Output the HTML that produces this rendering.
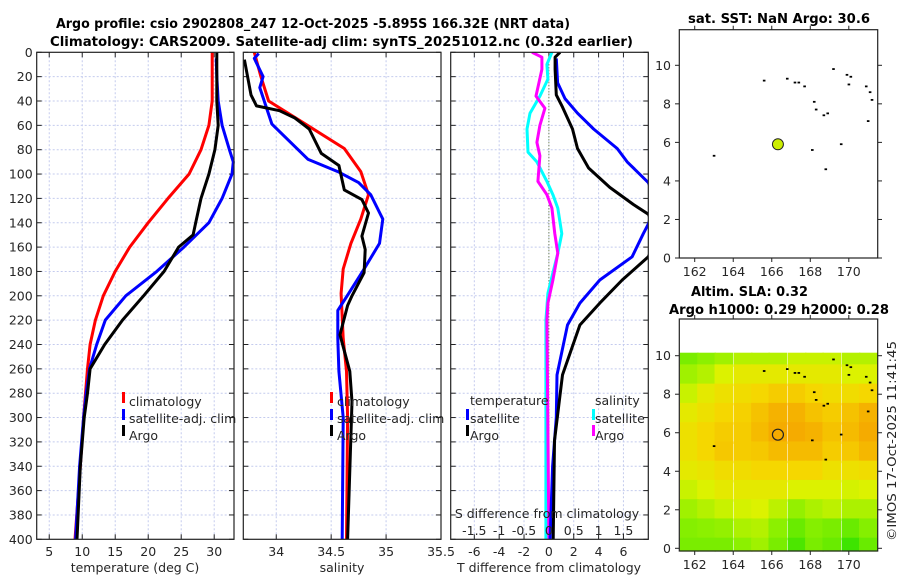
<!DOCTYPE html>
<html><head><meta charset="utf-8">
<style>
body{margin:0;background:#fff;}
svg{display:block;font-family:"DejaVu Sans","Liberation Sans",sans-serif;}
</style></head>
<body>
<svg id="fig" width="900" height="580" viewBox="0 0 900 580" xmlns="http://www.w3.org/2000/svg">
<rect width="900" height="580" fill="#fff"/>
<text x="56" y="28" font-size="13" font-weight="bold" textLength="514" lengthAdjust="spacingAndGlyphs" fill="#000">Argo profile: csio 2902808_247 12-Oct-2025 -5.895S 166.32E (NRT data)</text>
<text x="50" y="46" font-size="13" font-weight="bold" textLength="583" lengthAdjust="spacingAndGlyphs" fill="#000">Climatology: CARS2009. Satellite-adj clim: synTS_20251012.nc (0.32d earlier)</text>
<text x="688" y="23" font-size="13" font-weight="bold" textLength="182" lengthAdjust="spacingAndGlyphs">sat. SST: NaN Argo: 30.6</text>
<text x="691" y="296" font-size="13" font-weight="bold" textLength="117" lengthAdjust="spacingAndGlyphs">Altim. SLA: 0.32</text>
<text x="669" y="314" font-size="13" font-weight="bold" textLength="220" lengthAdjust="spacingAndGlyphs">Argo h1000: 0.29 h2000: 0.28</text>
<text transform="translate(896,541) rotate(-90)" font-size="12.5" textLength="200" lengthAdjust="spacingAndGlyphs" fill="#262626">©IMOS 17-Oct-2025 11:41:45</text>
<g id="plots"></g>
</svg>
<script>
// ---- data ----
const depthTicks = [0,20,40,60,80,100,120,140,160,180,200,220,240,260,280,300,320,340,360,380,400];
const tempTicks = [5,10,15,20,25,30];
const salTicks = [34,34.5,35,35.5];
const salTickLabels = ["34","34.5","35","35.5"];
const tdiffTicks = [-6,-4,-2,0,2,4,6];
const sdiffTicks = [-1.5,-1,-0.5,0,0.5,1,1.5];
const tdiffLabels = ["-6","-4","-2","0","2","4","6"];
const sdiffLabels = ["-1.5","-1","-0.5","0","0.5","1","1.5"];

const tClimDepth = [0,40,60,80,100,120,140,160,180,200,220,240,260,280,300,340,400];
const tClimVal   = [29.7,29.7,29.2,28.0,26.2,23.0,20.0,17.2,15.0,13.2,12.0,11.2,10.8,10.5,10.2,9.7,8.9];
const tSatDepth = [5,20,40,60,80,90,100,120,140,160,180,200,220,240,260,280,300,340,400];
const tSatVal   = [30.3,30.4,30.6,31.2,32.3,32.9,32.7,31.2,29.2,25.4,21.3,16.6,13.5,12.2,11.1,10.6,10.2,9.6,9.0];
const tArgoDepth = [0,20,40,60,80,100,120,140,150,160,180,200,220,240,260,280,300,340,400];
const tArgoVal   = [30.4,30.4,30.4,30.6,30.1,29.2,28.0,27.2,26.8,24.6,22.4,19.3,16.1,13.4,11.2,10.8,10.3,9.7,9.2];

const sClimDepth = [0,20,40,62,79,98,117,137,157,178,198,235,262,300,400];
const sClimVal   = [33.80,33.86,33.93,34.32,34.62,34.77,34.84,34.77,34.68,34.61,34.59,34.61,34.64,34.65,34.64];
const sSatDepth = [1,5,20,29,59,88,98,107,117,137,157,178,198,212,235,262,300,400];
const sSatVal   = [33.84,33.80,33.88,33.85,33.96,34.29,34.56,34.75,34.86,34.97,34.94,34.80,34.66,34.56,34.56,34.57,34.61,34.60];
const sArgoDepth = [6,35,44,48,54,63,83,93,113,121,132,151,162,181,200,208,232,262,287,400];
const sArgoVal   = [33.71,33.77,33.82,34.03,34.17,34.30,34.41,34.57,34.62,34.78,34.84,34.78,34.81,34.80,34.69,34.65,34.58,34.67,34.69,34.65];

const dTSatDepth = [5,25,38,50,63,79,90,107,122,141,149,168,187,206,224,265,300,340,400];
const dTSatVal   = [0.6,0.7,1.3,2.3,3.6,5.5,6.3,8.0,8.6,8.0,7.6,6.7,4.1,2.5,1.5,0.65,0.6,0.3,0.1];
const dTArgoDepth = [0,4,14,35,45,63,79,95,111,125,133,150,168,187,206,224,265,281,319,400];
const dTArgoVal   = [0.9,0.5,0.5,0.6,1.1,1.9,2.3,3.2,4.9,6.8,8.0,8.8,8.0,5.9,4.1,2.5,1.1,0.9,0.45,0.35];
const dSSatDepth = [0,10,22,36,50,63,82,90,106,117,128,149,165,181,198,220,400];
const dSSatVal   = [0.06,-0.04,-0.02,-0.18,-0.38,-0.44,-0.42,-0.24,-0.04,0.08,0.18,0.26,0.18,0.08,-0.02,-0.06,-0.06];
const dSArgoDepth = [0,4,14,36,46,60,74,85,106,117,128,149,165,187,206,220,400];
const dSArgoVal   = [-0.34,-0.14,-0.14,-0.26,-0.08,-0.18,-0.24,-0.18,-0.22,-0.04,0.06,0.12,0.18,0.08,-0.02,-0.04,0.0];

const mapLonTicks = [162,164,166,168,170];
const mapLatTicks = [0,2,4,6,8,10];
const argoLon = 166.32, argoLat = 5.9;
const coastLon = [163.0,165.6,166.8,167.2,167.4,167.7,169.2,169.9,170.1,170.0,168.2,168.3,168.7,168.9,169.6,171.0,171.1,171.2,168.1,168.8,170.9];
const coastLat = [5.3,9.2,9.3,9.1,9.1,8.9,9.8,9.5,9.4,9.0,8.1,7.7,7.4,7.5,5.9,7.1,8.6,8.2,5.6,4.6,8.9];
const slaLons = [161.7,162.6,163.5,164.5,165.4,166.3,167.3,168.2,169.1,170.1,171.0];
const slaLats = [10,9,8,7,6,5,4,3,2,1,0];
const slaRow10 = [0.25,0.3,0.35,0.4,0.4,0.4,0.45,0.45,0.45,0.4,0.4];
const slaRow9  = [0.35,0.4,0.5,0.55,0.55,0.55,0.55,0.55,0.55,0.5,0.5];
const slaRow8  = [0.45,0.55,0.6,0.62,0.65,0.7,0.7,0.65,0.62,0.62,0.65];
const slaRow7  = [0.55,0.6,0.65,0.68,0.75,0.82,0.82,0.75,0.7,0.75,0.82];
const slaRow6  = [0.6,0.65,0.7,0.7,0.78,0.86,0.86,0.82,0.75,0.78,0.86];
const slaRow5  = [0.6,0.65,0.72,0.7,0.72,0.78,0.78,0.78,0.7,0.72,0.8];
const slaRow4  = [0.55,0.58,0.62,0.62,0.65,0.65,0.65,0.65,0.6,0.6,0.62];
const slaRow3  = [0.45,0.5,0.55,0.55,0.55,0.55,0.5,0.5,0.5,0.48,0.5];
const slaRow2  = [0.35,0.4,0.45,0.48,0.5,0.42,0.32,0.38,0.42,0.38,0.38];
const slaRow1  = [0.28,0.3,0.32,0.38,0.4,0.3,0.2,0.28,0.25,0.2,0.28];
const slaRow0  = [0.25,0.25,0.25,0.3,0.35,0.25,0.12,0.25,0.2,0.08,0.2];
const slaGrid = [slaRow10,slaRow9,slaRow8,slaRow7,slaRow6,slaRow5,slaRow4,slaRow3,slaRow2,slaRow1,slaRow0];

// ---- drawing ----
const NS="http://www.w3.org/2000/svg";
const root=document.getElementById('plots');
function mk(tag,attrs,parent){const e=document.createElementNS(NS,tag);for(const k in attrs)e.setAttribute(k,attrs[k]);(parent||root).appendChild(e);return e;}
const Y0=52.3,Y1=539.3;
const yD=d=>Y0+(Y1-Y0)*d/400;
function lin(a,b,p,q){return v=>p+(v-a)*(q-p)/(b-a);}
const xT=lin(3.1,33,36.7,234);
const xS=lin(33.70,35.5,243.3,441);
const xDT=lin(-7.9,8.0,450.7,648.3);
const xDS=lin(-1.975,2.0,450.7,648.3);
const GRID="#c4cbee";
const FS=12.5;

function panel(name,L,R,xs,xticks,xlabels,showDepth){
  const g=mk('g',{});
  
  
  xticks.forEach(t=>{const x=xs(t);if(x>L+1&&x<R-1){const l=mk('line',{x1:x,x2:x,y1:Y0,y2:Y1,stroke:GRID,'stroke-width':1,'stroke-dasharray':'2,2'},g);}});
  depthTicks.forEach(d=>{const y=yD(d);if(d>0&&d<400){const l=mk('line',{x1:L,x2:R,y1:y,y2:y,stroke:GRID,'stroke-width':1,'stroke-dasharray':'2,2'},g);}
    mk('line',{x1:L,x2:L+5,y1:y,y2:y,stroke:'#222'},g);mk('line',{x1:R-5,x2:R,y1:y,y2:y,stroke:'#222'},g);
    if(showDepth){const t=mk('text',{x:L-4,y:y+4.5,'font-size':FS,'text-anchor':'end',fill:'#262626'},g);t.textContent=d;}
  });
  xticks.forEach((t,i)=>{const x=xs(t);mk('line',{x1:x,x2:x,y1:Y1,y2:Y1-5,stroke:'#222'},g);mk('line',{x1:x,x2:x,y1:Y0,y2:Y0+5,stroke:'#222'},g);
    if(xlabels){const tx=mk('text',{x:x,y:556,'font-size':FS,'text-anchor':'middle',fill:'#262626'},g);tx.textContent=xlabels[i];}});
  return g;
}
function frame(g,L,R){const r=mk('rect',{x:L,y:Y0,width:R-L,height:Y1-Y0,fill:'none',stroke:'#222','stroke-width':1.2},g);}
function line(g,xs,vals,depths,color,name,clip){
  const pts=vals.map((v,i)=>xs(v).toFixed(1)+','+yD(depths[i]).toFixed(1)).join(' ');
  const p=mk('polyline',{points:pts,fill:'none',stroke:color,'stroke-width':3,'stroke-linejoin':'round'},g);
  if(clip)p.setAttribute('clip-path','url(#'+clip+')');
  
  
}
function txt(g,x,y,s,name,size,anchor){const t=mk('text',{x:x,y:y,'font-size':size||FS,'text-anchor':anchor||'start',fill:'#262626'},g);t.textContent=s;return t;}
function legendMark(g,x,y,c){const r=mk('rect',{x:x,y:y-10,width:3,height:11,fill:c},g);}

const defs=mk('defs',{});
const cp=mk('clipPath',{id:'clipD'},defs);mk('rect',{x:450.7,y:Y0,width:197.6,height:Y1-Y0},cp);

// Panel 1 temperature
const tLabels=tempTicks.map(String);
let g1=panel('temperature-panel',36.7,234,xT,tempTicks,tLabels,true);
line(g1,xT,tClimVal,tClimDepth,'#ff0000','temperature-climatology-line');
line(g1,xT,tSatVal,tSatDepth,'#0000ff','temperature-satellite-line');
line(g1,xT,tArgoVal,tArgoDepth,'#000000','temperature-argo-line');
frame(g1,36.7,234);
txt(g1,135,572,'temperature (deg C)','temperature-axis-title',FS,'middle');
legendMark(g1,122,402,'#ff0000');txt(g1,129,406,'climatology','legend-climatology');
legendMark(g1,122,419,'#0000ff');txt(g1,129,423,'satellite-adj. clim','legend-satellite-adj');
legendMark(g1,122,435,'#000');txt(g1,129,440,'Argo','legend-argo');

// Panel 2 salinity
let g2=panel('salinity-panel',243.3,441,xS,salTicks,salTickLabels,false);
line(g2,xS,sClimVal,sClimDepth,'#ff0000','salinity-climatology-line');
line(g2,xS,sSatVal,sSatDepth,'#0000ff','salinity-satellite-line');
line(g2,xS,sArgoVal,sArgoDepth,'#000000','salinity-argo-line');
frame(g2,243.3,441);
txt(g2,342,572,'salinity','salinity-axis-title',FS,'middle');
legendMark(g2,330,402,'#ff0000');txt(g2,337,406,'climatology','legend-climatology');
legendMark(g2,330,419,'#0000ff');txt(g2,337,423,'satellite-adj. clim','legend-satellite-adj');
legendMark(g2,330,435,'#000');txt(g2,337,440,'Argo','legend-argo');

// Panel 3 differences
let g3=panel('difference-panel',450.7,648.3,xDT,tdiffTicks,tdiffLabels,false);
const zl=mk('line',{x1:xDT(0),x2:xDT(0),y1:Y0,y2:Y1,stroke:'#556b2f','stroke-width':1,'stroke-dasharray':'1,2'},g3);

line(g3,xDS,dSSatVal,dSSatDepth,'#00ffff','sdiff-satellite-line','clipD');
line(g3,xDS,dSArgoVal,dSArgoDepth,'#ff00ff','sdiff-argo-line','clipD');
line(g3,xDT,dTSatVal,dTSatDepth,'#0000ff','tdiff-satellite-line','clipD');
line(g3,xDT,dTArgoVal,dTArgoDepth,'#000000','tdiff-argo-line','clipD');
sdiffTicks.forEach((t,i)=>{txt(g3,xDS(t),535,sdiffLabels[i],'s-diff-tick-label',FS,'middle');});
txt(g3,547,518,'S difference from climatology','s-diff-axis-title',FS,'middle');
frame(g3,450.7,648.3);
txt(g3,549,572,'T difference from climatology','t-diff-axis-title',FS,'middle');
txt(g3,470,405,'temperature','legend-temperature-header');
txt(g3,595,405,'salinity','legend-salinity-header');
legendMark(g3,466,419,'#0000ff');txt(g3,470,423,'satellite','legend-t-satellite');
legendMark(g3,466,435,'#000');txt(g3,470,440,'Argo','legend-t-argo');
legendMark(g3,592,419,'#00ffff');txt(g3,595,423,'satellite','legend-s-satellite');
legendMark(g3,592,435,'#ff00ff');txt(g3,595,440,'Argo','legend-s-argo');

// Maps
const mx=lin(161.2,171.5,679.3,877.7);
function mapAxes(name){
  const g=mk('g',{});
  
  
  return g;
}
function mapFrame(g,top,bottom,my){
  mk('rect',{x:679.3,y:top,width:198.4,height:bottom-top,fill:'none',stroke:'#222','stroke-width':1.2},g);
  mapLonTicks.forEach(t=>{const x=mx(t);mk('line',{x1:x,x2:x,y1:bottom,y2:bottom+4,stroke:'#222'},g);mk('line',{x1:x,x2:x,y1:top,y2:top-4,stroke:'#222'},g);txt(g,x,bottom+18,String(t),'lon-tick-label',FS,'middle');});
  mapLatTicks.forEach(t=>{const y=my(t);mk('line',{x1:675,x2:679.3,y1:y,y2:y,stroke:'#222'},g);mk('line',{x1:877.7,x2:882,y1:y,y2:y,stroke:'#222'},g);txt(g,671,y+4.5,String(t),'lat-tick-label',FS,'end');});
}
function coast(g,my){coastLon.forEach((lo,i)=>{const r=mk('rect',{x:mx(lo)-1.2,y:my(coastLat[i])-1,width:2.6,height:1.8,fill:'#000'},g);});}

const my1=lin(0,10,258,65.3);
const gm1=mapAxes('sst-map');
coast(gm1,my1);
const dot=mk('circle',{cx:mx(argoLon),cy:my1(argoLat),r:5.5,fill:'#ccee00',stroke:'#222','stroke-width':1},gm1);

mapFrame(gm1,29.7,258,my1);

const my2=lin(0,10,548.3,355.7);
const gm2=mapAxes('sla-map');
function cmap(v){
  const stops=[[0,[34,224,0]],[0.3,[140,240,0]],[0.5,[220,242,0]],[0.65,[245,215,0]],[0.85,[245,172,0]],[1,[240,160,0]]];
  for(let i=1;i<stops.length;i++){if(v<=stops[i][0]){const a=stops[i-1],b=stops[i];const f=(v-a[0])/(b[0]-a[0]);return 'rgb('+a[1].map((c,k)=>Math.round(c+(b[1][k]-c)*f)).join(',')+')';}}
  return 'rgb(240,160,0)';
}
slaLats.forEach((la,r)=>{slaLons.forEach((lo,c)=>{
  const x0=Math.max(679.3,mx(lo-0.47)),x1=Math.min(877.7,mx(lo+0.47));
  const y0=Math.max(352.7,my2(la+0.55)),y1=Math.min(551,my2(la-0.55));
  const cell=mk('rect',{x:x0,y:y0,width:x1-x0+0.6,height:y1-y0+0.6,fill:cmap(slaGrid[r][c])},gm2);
  
  
});});
coast(gm2,my2);
const ring=mk('circle',{cx:mx(argoLon),cy:my2(argoLat),r:5.5,fill:'none',stroke:'#222','stroke-width':1.2},gm2);

mapFrame(gm2,319,551,my2);
</script>
</body></html>
